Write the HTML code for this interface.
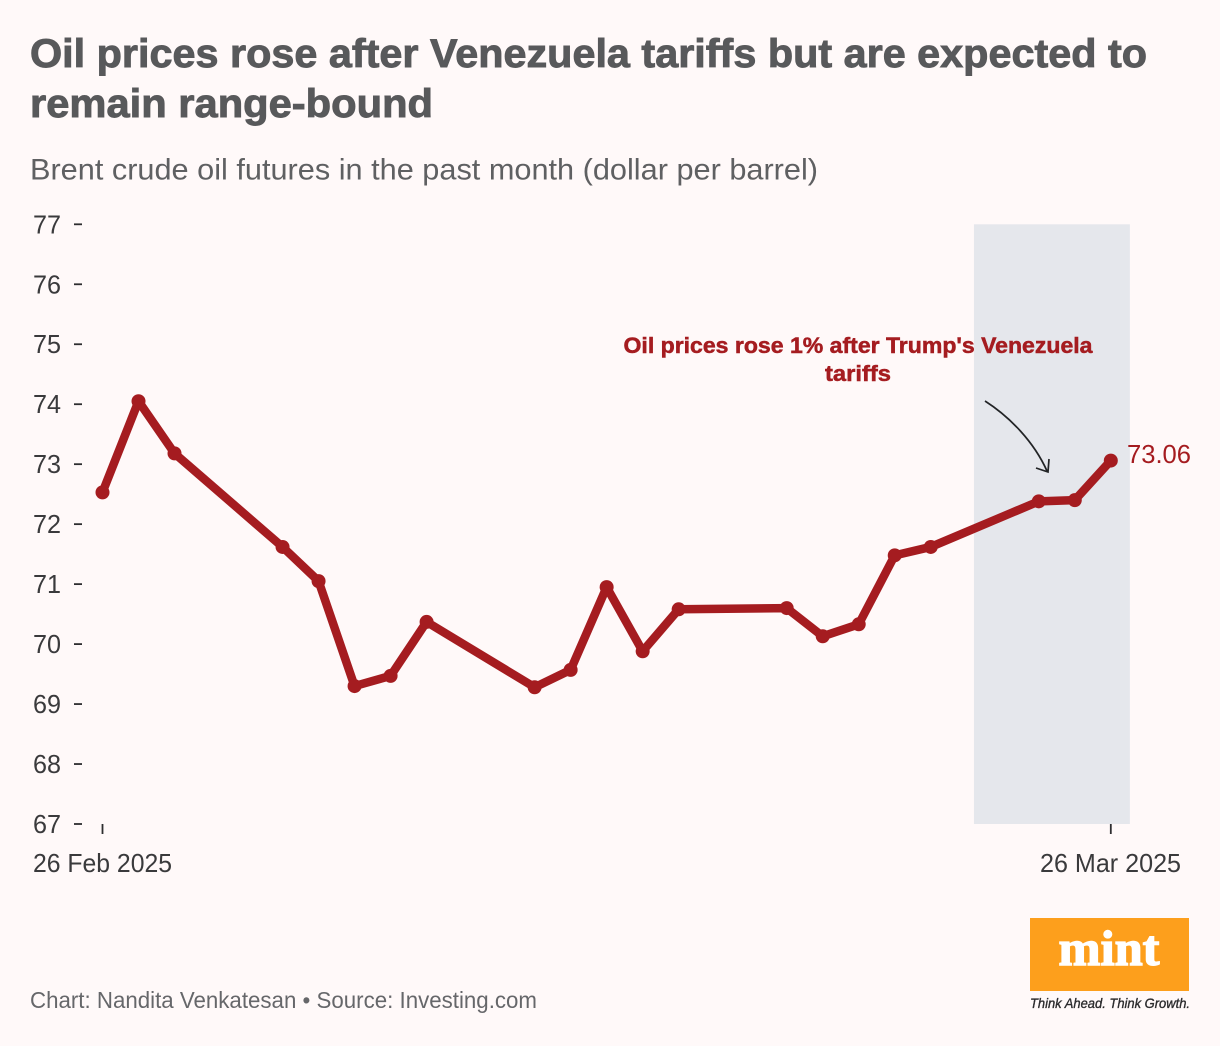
<!DOCTYPE html>
<html lang="en">
<head>
<meta charset="utf-8">
<title>Oil prices chart</title>
<style>
html,body{margin:0;padding:0;background:#fff9f9;}
svg{display:block;font-family:"Liberation Sans",sans-serif;}
</style>
</head>
<body>
<svg id="chart" xmlns="http://www.w3.org/2000/svg" width="1220" height="1046" viewBox="0 0 1220 1046">
<rect x="0" y="0" width="1220" height="1046" fill="#fff9f9"/>
<text x="30" y="67" font-size="40" font-weight="700" fill="#58595b" stroke="#58595b" stroke-width="0.9" textLength="1117" lengthAdjust="spacingAndGlyphs">Oil prices rose after Venezuela tariffs but are expected to</text>
<text x="30" y="117" font-size="40" font-weight="700" fill="#58595b" stroke="#58595b" stroke-width="0.9" textLength="403" lengthAdjust="spacingAndGlyphs">remain range-bound</text>
<text x="30" y="179.5" font-size="30" fill="#5f6062" textLength="788" lengthAdjust="spacingAndGlyphs">Brent crude oil futures in the past month (dollar per barrel)</text>
<g id="band-layer"></g>
<g id="y-axis"></g>
<g id="x-axis"></g>
<g id="series"></g>
<text x="858" y="353" text-anchor="middle" font-size="22" font-weight="700" fill="#a51c20" stroke="#a51c20" stroke-width="0.5" textLength="469" lengthAdjust="spacingAndGlyphs">Oil prices rose 1% after Trump's Venezuela</text>
<text x="858" y="381" text-anchor="middle" font-size="22" font-weight="700" fill="#a51c20" stroke="#a51c20" stroke-width="0.5" textLength="66" lengthAdjust="spacingAndGlyphs">tariffs</text>
<path d="M985 401 C1010 417 1034 442 1047 471 M1036 468 L1048 472 L1049 459" fill="none" stroke="#222426" stroke-width="1.7"/>
<text id="last-label" x="1127" y="463" font-size="26" fill="#a51c20" textLength="64" lengthAdjust="spacingAndGlyphs"></text>
<text x="30" y="1008" font-size="23" fill="#66676a" textLength="507" lengthAdjust="spacingAndGlyphs">Chart: Nandita Venkatesan • Source: Investing.com</text>
<g>
<rect x="1030" y="918" width="159" height="73" fill="#fd9f1c"/>
<text x="1109" y="965" text-anchor="middle" font-family="'Liberation Serif',serif" font-size="50" font-weight="700" fill="#ffffff" stroke="#ffffff" stroke-width="1.4" textLength="101" lengthAdjust="spacingAndGlyphs">mint</text>
<text x="1030" y="1008" font-size="14" font-style="italic" fill="#2b2b2d" stroke="#2b2b2d" stroke-width="0.35" textLength="160" lengthAdjust="spacingAndGlyphs">Think Ahead. Think Growth.</text>
</g>
<script>
var dayOffsets = [0, 1, 2, 5, 6, 7, 8, 9, 12, 13, 14, 15, 16, 19, 20, 21, 22, 23, 26, 27, 28];
var prices = [72.53, 74.05, 73.18, 71.62, 71.05, 69.3, 69.47, 70.37, 69.28, 69.57, 70.95, 69.88, 70.58, 70.6, 70.13, 70.33, 71.48, 71.62, 72.38, 72.4, 73.06];
var yTicks = [67, 68, 69, 70, 71, 72, 73, 74, 75, 76, 77];
var xTickDays = [0, 28];
var xTickLabels = ['26 Feb 2025', '26 Mar 2025'];
var highlightDays = [24.2, 28.53];
var lastValueText = '73.06';

var NS = 'http://www.w3.org/2000/svg';
function xScale(d) { return 102.5 + (d / 28) * 1008.3; }
function yScale(v) { return 824 - (v - 67) * 59.97; }
function make(tag, attrs, parent) {
  var el = document.createElementNS(NS, tag);
  for (var k in attrs) { el.setAttribute(k, attrs[k]); }
  parent.appendChild(el);
  return el;
}

var bandLayer = document.getElementById('band-layer');
var band = make('rect', {
  x: xScale(highlightDays[0]),
  y: yScale(77),
  width: xScale(highlightDays[1]) - xScale(highlightDays[0]),
  height: yScale(67) - yScale(77),
  fill: '#e5e7ec'
}, bandLayer);



var yAxis = document.getElementById('y-axis');
yTicks.forEach(function (t) {
  var tick = make('line', { x1: 74, x2: 82, y1: yScale(t), y2: yScale(t), stroke: '#2e2e30', 'stroke-width': 1.8 }, yAxis);
  
  
  var lab = make('text', { x: 33, y: yScale(t) + 9, 'font-size': 26, fill: '#3a3a3c', textLength: 28, lengthAdjust: 'spacingAndGlyphs' }, yAxis);
  lab.textContent = String(t);
  
  
});

var xAxis = document.getElementById('x-axis');
xTickDays.forEach(function (d, i) {
  var tick = make('line', { x1: xScale(d), x2: xScale(d), y1: 824, y2: 834, stroke: '#2e2e30', 'stroke-width': 1.8 }, xAxis);
  
  
  var lab = make('text', { x: i === 0 ? 33 : 1040, y: 872, 'font-size': 26, fill: '#3a3a3c', textLength: i === 0 ? 139 : 141, lengthAdjust: 'spacingAndGlyphs' }, xAxis);
  lab.textContent = xTickLabels[i];
  
  
});

var series = document.getElementById('series');
var pts = dayOffsets.map(function (d, i) { return xScale(d) + ',' + yScale(prices[i]); }).join(' ');
var line = make('polyline', { points: pts, fill: 'none', stroke: '#a51c20', 'stroke-width': 8.5, 'stroke-linejoin': 'round' }, series);


dayOffsets.forEach(function (d, i) {
  var c = make('circle', { cx: xScale(d), cy: yScale(prices[i]), r: 7, fill: '#a51c20' }, series);
  
  
});

document.getElementById('last-label').textContent = lastValueText;
</script>
</svg>
</body>
</html>
